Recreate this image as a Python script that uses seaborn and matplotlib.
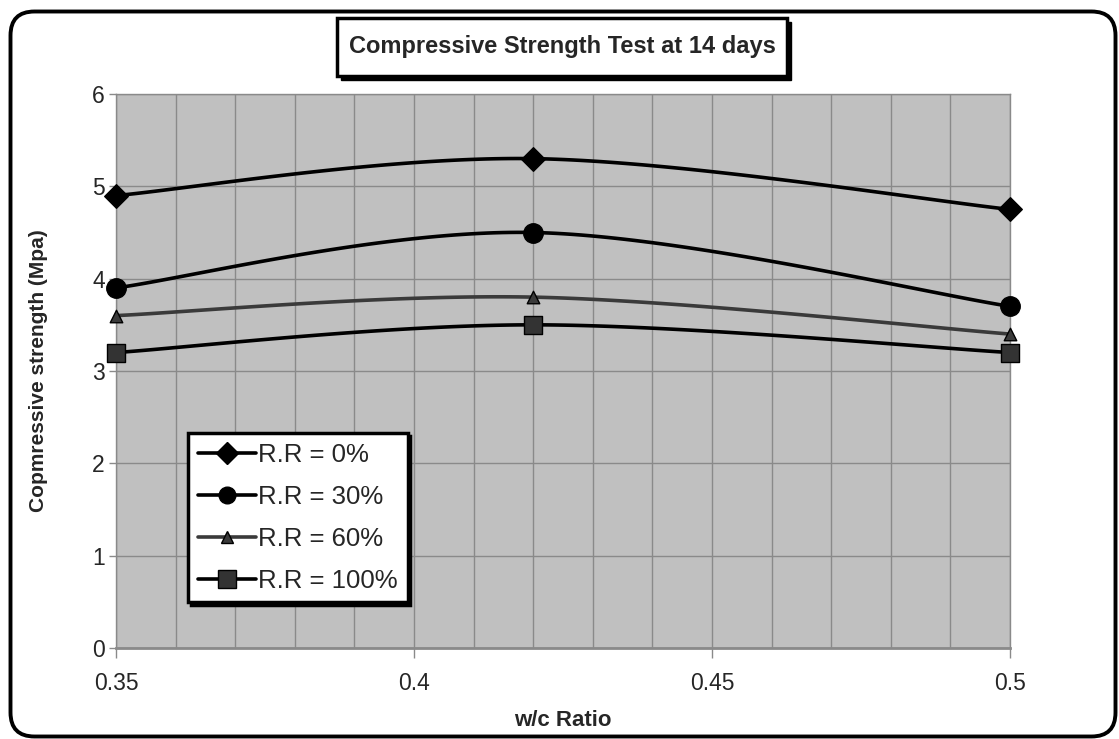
import numpy as np
import pandas as pd
import matplotlib
matplotlib.use("Agg")
import matplotlib.pyplot as plt
import seaborn as sns
from matplotlib.lines import Line2D
from matplotlib.patches import FancyBboxPatch, Rectangle

# ---- data ----
wc_ratio = [0.35, 0.42, 0.50]
series_labels = ["R.R = 0%", "R.R = 30%", "R.R = 60%", "R.R = 100%"]
rr_0 = [4.9, 5.3, 4.75]
rr_30 = [3.9, 4.5, 3.7]
rr_60 = [3.6, 3.8, 3.4]
rr_100 = [3.2, 3.5, 3.2]
x_ticks = [0.35, 0.40, 0.45, 0.50]
x_tick_labels = ["0.35", "0.4", "0.45", "0.5"]
y_ticks = [0, 1, 2, 3, 4, 5, 6]

series_values = [rr_0, rr_30, rr_60, rr_100]
line_colors = ["#000000", "#000000", "#3a3a3a", "#000000"]
marker_shapes = ["D", "o", "^", "s"]
marker_sizes = [12, 14, 9, 13]
marker_faces = ["#000000", "#000000", "#3a3a3a", "#333333"]


def smooth(xs, ys, n=60):
    """Excel-like smoothed line (Catmull-Rom Bezier) through the points."""
    P = np.column_stack([xs, ys]).astype(float)
    ext = np.vstack([P[0], P, P[-1]])
    out = []
    for i in range(len(P) - 1):
        p0, p1, p2, p3 = ext[i], ext[i + 1], ext[i + 2], ext[i + 3]
        c1 = p1 + (p2 - p0) / 6.0
        c2 = p2 - (p3 - p1) / 6.0
        t = np.linspace(0, 1, n)[:, None]
        seg = ((1 - t) ** 3) * p1 + 3 * ((1 - t) ** 2) * t * c1 + 3 * (1 - t) * t ** 2 * c2 + t ** 3 * p2
        out.append(seg if i == 0 else seg[1:])
    return np.vstack(out)


rows = []
for lab, vals in zip(series_labels, series_values):
    curve = smooth(wc_ratio, vals)
    for cx, cy in curve:
        rows.append({"w/c": cx, "strength": cy, "series": lab})
curve_df = pd.DataFrame(rows)
point_df = pd.DataFrame({
    "w/c": np.tile(wc_ratio, len(series_labels)),
    "strength": np.concatenate(series_values),
    "series": np.repeat(series_labels, len(wc_ratio)),
})

sns.set_style("white")
plt.rcParams["font.family"] = ["Liberation Sans", "DejaVu Sans"]

W, H = 1119, 739
fig = plt.figure(figsize=(W / 100, H / 100), dpi=100)

# background overlay in pixel coordinates
bg = fig.add_axes([0, 0, 1, 1], zorder=0)
bg.set_xlim(0, W)
bg.set_ylim(H, 0)
bg.axis("off")
frame = FancyBboxPatch((10.5, 11.5), 1105, 725, boxstyle="round,pad=0,rounding_size=24",
                       linewidth=2.8, edgecolor="black", facecolor="white", clip_on=False)
bg.add_patch(frame)
bg.add_patch(Rectangle((341, 22), 450, 58, facecolor="black", edgecolor="black"))
bg.add_patch(Rectangle((337, 18), 450, 58, facecolor="white", edgecolor="black", linewidth=2.5))
bg.text(562, 47, "Compressive Strength Test at 14 days", ha="center", va="center",
        fontsize=17, fontweight="bold")

left, right, top, bottom = 116, 1010, 94, 648
ax = fig.add_axes([left / W, 1 - bottom / H, (right - left) / W, (bottom - top) / H], zorder=1)
ax.set_facecolor("#c0c0c0")

palette = dict(zip(series_labels, line_colors))
sns.lineplot(data=curve_df, x="w/c", y="strength", hue="series", palette=palette,
             sort=False, estimator=None, linewidth=2.6, legend=False, ax=ax, zorder=3)
for lab, mk, ms, fc in zip(series_labels, marker_shapes, marker_sizes, marker_faces):
    sub = point_df[point_df["series"] == lab]
    sns.scatterplot(data=sub, x="w/c", y="strength", marker=mk, s=ms ** 2, color=fc,
                    edgecolor="black", linewidth=1.0, legend=False, ax=ax, zorder=4, clip_on=False)

ax.set_xlim(0.35, 0.50)
ax.set_ylim(0, 6)
ax.set_xticks(x_ticks)
ax.set_xticklabels(x_tick_labels)
ax.set_xticks(np.arange(0.36, 0.50, 0.01), minor=True)
ax.set_yticks(y_ticks)
ax.grid(True, which="major", axis="y", color="#8a8a8a", linewidth=1.0)
ax.grid(True, which="both", axis="x", color="#8a8a8a", linewidth=1.0)
ax.set_axisbelow(True)
ax.tick_params(axis="x", which="major", direction="out", length=7, width=1, color="#8a8a8a",
               labelsize=16.5, pad=10, bottom=True)
ax.tick_params(axis="x", which="minor", length=0)
ax.tick_params(axis="y", direction="out", length=5, width=1, color="#8a8a8a", labelsize=16.5, pad=3, left=True)
for s in ["left", "right", "top"]:
    ax.spines[s].set_color("#8a8a8a")
    ax.spines[s].set_linewidth(1.0)
ax.spines["bottom"].set_color("#8a8a8a")
ax.spines["bottom"].set_linewidth(2.0)

ax.set_xlabel("w/c Ratio", fontsize=16, fontweight="bold", labelpad=11)
ax.set_ylabel("Copmressive strength (Mpa)", fontsize=15, fontweight="bold", labelpad=32)

handles = [Line2D([0], [0], color=c, linewidth=2.6, marker=m, markersize=ms, markerfacecolor=fc,
                  markeredgecolor="black", markeredgewidth=1.0)
           for c, m, ms, fc in zip(line_colors, marker_shapes, [11, 12, 9, 13], marker_faces)]
leg = ax.legend(handles, series_labels, loc="upper left",
                bbox_to_anchor=((188 - left) / (right - left), (bottom - 433) / (bottom - top)),
                borderaxespad=0, fontsize=18.5, frameon=True, fancybox=False,
                handlelength=2.25, handletextpad=0.1, labelspacing=0.7, borderpad=0.38,
                shadow={"color": "black", "alpha": 1.0})
leg.get_frame().set_edgecolor("black")
leg.get_frame().set_linewidth(2.5)
leg.get_frame().set_facecolor("white")
leg.get_frame().set_alpha(1.0)

fig.savefig("out.png", dpi=100)
